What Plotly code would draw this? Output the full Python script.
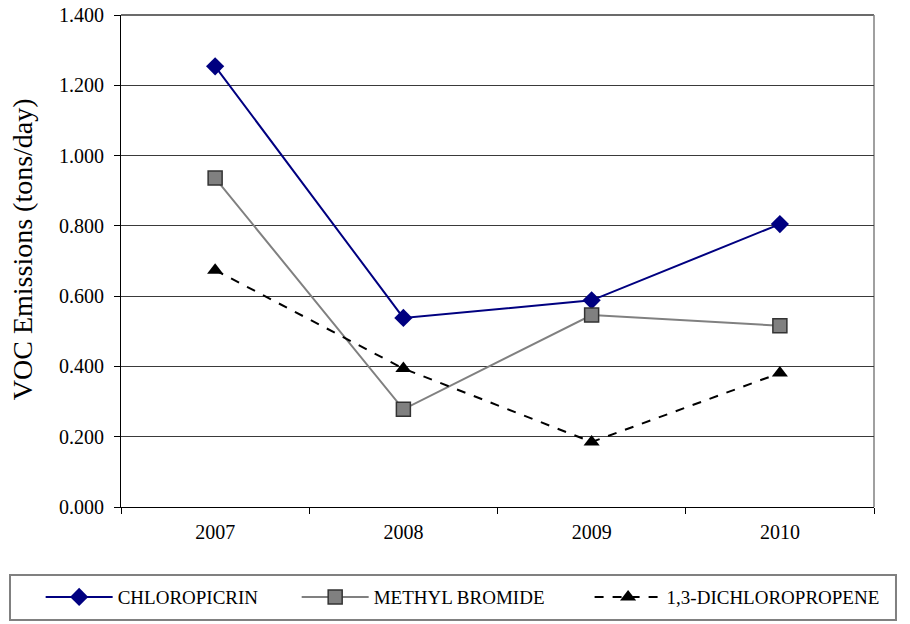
import plotly.graph_objects as go

# VOC emissions (tons/day) by fumigant
years = ["2007", "2008", "2009", "2010"]
chloropicrin = [1.254, 0.538, 0.588, 0.805]
methyl_bromide = [0.936, 0.278, 0.546, 0.516]
dichloropropene = [0.674, 0.394, 0.185, 0.381]
y_ticks = [0.0, 0.2, 0.4, 0.6, 0.8, 1.0, 1.2, 1.4]

serif = "Liberation Serif"

fig = go.Figure()

fig.add_trace(go.Scatter(
    x=years, y=chloropicrin, name="CHLOROPICRIN", mode="lines+markers",
    line=dict(color="#000080", width=2),
    marker=dict(symbol="diamond", size=14, color="#000080"),
    legend="legend"))

fig.add_trace(go.Scatter(
    x=years, y=methyl_bromide, name="METHYL BROMIDE", mode="lines+markers",
    line=dict(color="#808080", width=2),
    marker=dict(symbol="square", size=14, color="#808080",
                line=dict(color="#333333", width=1.5)),
    legend="legend2"))

fig.add_trace(go.Scatter(
    x=years, y=dichloropropene, name="1,3-DICHLOROPROPENE", mode="lines+markers",
    line=dict(color="#000000", width=2, dash="dash"),
    marker=dict(symbol="triangle-up", size=14, color="#000000"),
    legend="legend3"))

legend_style = dict(orientation="h", yanchor="middle", y=-0.183, xanchor="left",
                    font=dict(family=serif, size=19, color="#000000"),
                    itemwidth=67, bgcolor="rgba(0,0,0,0)", borderwidth=0)

# page body has an 8px margin, so the figure is 8px smaller than the window
fig.update_layout(
    width=902, height=616,
    margin=dict(l=113, r=36, t=7, b=117, autoexpand=False),
    paper_bgcolor="white", plot_bgcolor="white",
    font=dict(family=serif, size=20, color="#000000"),
    showlegend=True,
    legend=dict(legend_style, x=-0.1067),
    legend2=dict(legend_style, x=0.2333),
    legend3=dict(legend_style, x=0.6223),
    xaxis=dict(
        type="category", range=[-0.5, 3.5],
        showline=True, linecolor="#000000", linewidth=1,
        ticks="outside", tickson="boundaries", ticklen=6, tickcolor="#000000",
        ticklabelstandoff=7,
        showgrid=False, tickfont=dict(family=serif, size=20, color="#000000")),
    yaxis=dict(
        range=[0, 1.4], tickvals=y_ticks, tickformat=".3f",
        showline=True, linecolor="#000000", linewidth=1,
        ticks="outside", ticklen=6, tickcolor="#000000",
        ticklabelstandoff=6, ticklabeloverflow="allow",
        showgrid=True, gridcolor="#3a3a3a", gridwidth=1,
        zeroline=False, tickfont=dict(family=serif, size=20, color="#000000")),
    annotations=[
        dict(text="VOC Emissions (tons/day)", textangle=-90,
             xref="paper", yref="paper", x=-0.1315, y=0.524,
             xanchor="center", yanchor="middle", showarrow=False,
             font=dict(family=serif, size=28, color="#000000")),
    ],
    shapes=[
        # plot frame: dark top edge, gray right edge
        dict(type="line", xref="paper", yref="paper", x0=0, x1=1, y0=1, y1=1,
             line=dict(color="#3a3a3a", width=1.5), layer="below"),
        dict(type="line", xref="paper", yref="paper", x0=1, x1=1, y0=0, y1=1,
             line=dict(color="#808080", width=1.5), layer="below"),
        # legend frame
        dict(type="rect", xref="paper", yref="paper",
             x0=-0.1474, x1=1.0292, y0=-0.2297, y1=-0.1382,
             line=dict(color="#808080", width=2), layer="below"),
    ],
)

fig.write_html("out.html")
